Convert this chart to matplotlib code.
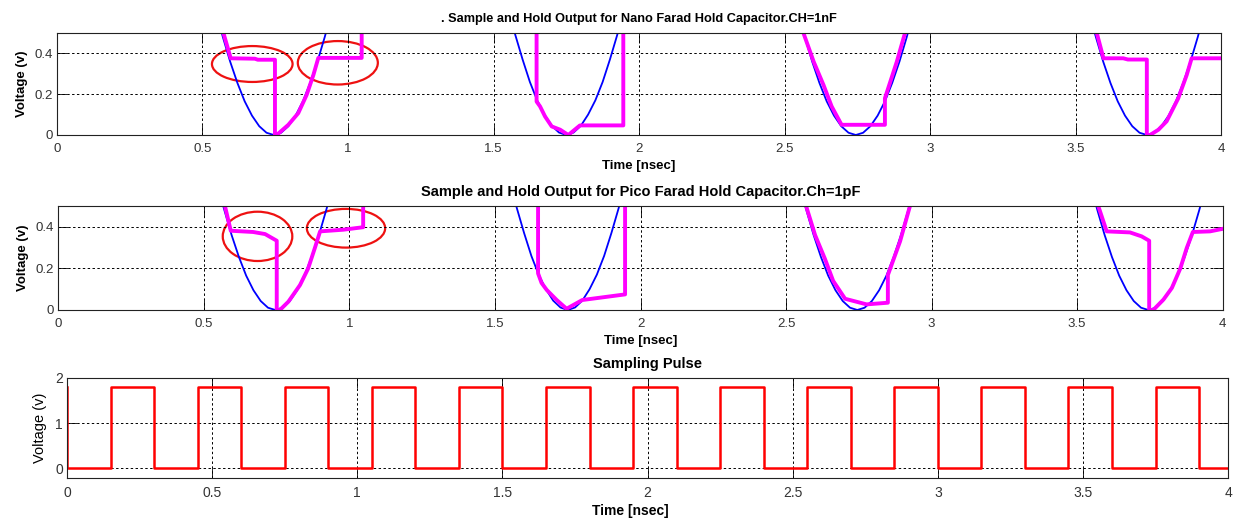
"""
Sample & hold output (nano / pico farad hold capacitor) and sampling pulse.
"""

import matplotlib
matplotlib.use('Agg')
import matplotlib.pyplot as plt
from matplotlib.patches import Ellipse

plt.rcParams['font.family'] = ['Liberation Sans', 'DejaVu Sans']

# ---- data ----
time_ticks = [0, 0.5, 1, 1.5, 2, 2.5, 3, 3.5, 4]
out_yticks = [0, 0.2, 0.4]
pulse_yticks = [0, 1, 2]

# input signal (blue), only the dips come into the 0..0.5 window
input_t = [0.545, 0.57, 0.595, 0.62, 0.645, 0.67, 0.695, 0.72, 0.745, 0.77, 0.795, 0.82, 0.845, 0.87, 0.895, 0.92, 0.945,
           1.55, 1.575, 1.60, 1.625, 1.65, 1.675, 1.70, 1.725, 1.75, 1.775, 1.80, 1.825, 1.85, 1.875, 1.90, 1.925, 1.95,
           2.545, 2.57, 2.595, 2.62, 2.645, 2.67, 2.695, 2.72, 2.745, 2.77, 2.795, 2.82, 2.845, 2.87, 2.895, 2.92, 2.945,
           3.545, 3.57, 3.595, 3.62, 3.645, 3.67, 3.695, 3.72, 3.745, 3.77, 3.795, 3.82, 3.845, 3.87, 3.895, 3.92, 3.945]
input_v = [0.61, 0.48, 0.36, 0.255, 0.165, 0.095, 0.043, 0.011, 0.0, 0.011, 0.043, 0.095, 0.165, 0.255, 0.36, 0.48, 0.61,
           0.62, 0.49, 0.37, 0.26, 0.17, 0.10, 0.045, 0.012, 0.0, 0.012, 0.045, 0.10, 0.17, 0.26, 0.37, 0.49, 0.62,
           0.61, 0.48, 0.36, 0.255, 0.165, 0.095, 0.043, 0.011, 0.0, 0.011, 0.043, 0.095, 0.165, 0.255, 0.36, 0.48, 0.61,
           0.61, 0.48, 0.36, 0.255, 0.165, 0.095, 0.043, 0.011, 0.0, 0.011, 0.043, 0.095, 0.165, 0.255, 0.36, 0.48, 0.61]

# S&H output, CH = 1nF (magenta)
nano_t = [0.0, 0.55, 0.572, 0.597, 0.68, 0.69, 0.749, 0.749, 0.755, 0.795, 0.829, 0.858, 0.881, 0.898, 1.047, 1.047,
          1.648, 1.648, 1.66, 1.677, 1.70, 1.729, 1.757, 1.797, 1.946, 1.946,
          2.54, 2.565, 2.60, 2.634, 2.662, 2.696, 2.845, 2.845, 2.886, 2.914, 2.94,
          3.55, 3.573, 3.596, 3.664, 3.68, 3.745, 3.745, 3.756, 3.785, 3.813, 3.853, 3.882, 3.899, 4.0]
nano_v = [1.3, 0.62, 0.5, 0.376, 0.374, 0.369, 0.369, 0.0, 0.0, 0.05, 0.107, 0.197, 0.294, 0.378, 0.378, 1.3,
          1.3, 0.164, 0.14, 0.091, 0.042, 0.026, 0.0, 0.047, 0.047, 1.3,
          0.62, 0.5, 0.36, 0.245, 0.14, 0.05, 0.05, 0.18, 0.36, 0.5, 0.62,
          0.62, 0.5, 0.376, 0.376, 0.37, 0.37, 0.0, 0.0, 0.026, 0.067, 0.18, 0.294, 0.376, 0.376]

# S&H output, Ch = 1pF (magenta)
pico_t = [0.0, 0.55, 0.572, 0.592, 0.669, 0.71, 0.75, 0.75, 0.761, 0.79, 0.83, 0.858, 0.881, 0.899, 0.979, 1.047, 1.047,
          1.648, 1.648, 1.66, 1.678, 1.712, 1.746, 1.80, 1.947, 1.947,
          2.545, 2.569, 2.60, 2.634, 2.662, 2.703, 2.777, 2.85, 2.85, 2.892, 2.926, 2.95,
          3.55, 3.573, 3.602, 3.682, 3.722, 3.748, 3.748, 3.762, 3.797, 3.826, 3.855, 3.877, 3.898, 3.957, 4.0]
pico_v = [1.3, 0.62, 0.5, 0.381, 0.375, 0.365, 0.333, 0.0, 0.0, 0.04, 0.12, 0.2, 0.298, 0.378, 0.386, 0.398, 1.3,
          1.3, 0.176, 0.13, 0.096, 0.048, 0.006, 0.048, 0.075, 1.3,
          0.62, 0.5, 0.36, 0.245, 0.14, 0.054, 0.027, 0.035, 0.168, 0.33, 0.5, 0.62,
          0.62, 0.5, 0.378, 0.373, 0.354, 0.333, 0.0, 0.0, 0.05, 0.106, 0.2, 0.298, 0.375, 0.378, 0.39]

# sampling pulse edges
PULSE_HIGH = 1.8
pulse_rise = [0.15, 0.45, 0.75, 1.05, 1.35, 1.65, 1.95, 2.25, 2.55, 2.85, 3.15, 3.45, 3.75]
pulse_fall = [0.30, 0.60, 0.90, 1.20, 1.50, 1.80, 2.10, 2.40, 2.70, 3.00, 3.30, 3.60, 3.90]

# red marks around the hold droop (centre t, centre v, width, height)
nano_marks = [(0.671, 0.348, 0.277, 0.176), (0.965, 0.354, 0.275, 0.213)]
pico_marks = [(0.684, 0.354, 0.239, 0.237), (0.988, 0.393, 0.269, 0.186)]

# step path for the pulse (starts high for an instant at t=0)
pulse_t = [0.0, 0.0]
pulse_v = [PULSE_HIGH, 0.0]
for r, f in zip(pulse_rise, pulse_fall):
    pulse_t += [r, r, f, f]
    pulse_v += [0.0, PULSE_HIGH, PULSE_HIGH, 0.0]
pulse_t.append(4.0)
pulse_v.append(0.0)


def style_axes(ax, yticks, labelsize=9.5):
    ax.set_xlim(0, 4)
    ax.set_xticks(time_ticks)
    ax.set_xticklabels(['0', '0.5', '1', '1.5', '2', '2.5', '3', '3.5', '4'])
    ax.set_yticks(yticks)
    ax.tick_params(direction='in', length=7, width=0.6, top=True, right=True,
                   labelsize=labelsize, labelcolor='#333333', pad=3)
    ax.tick_params(axis='x', pad=5.5)
    ax.grid(True, linestyle=(0, (2.5, 2.5)), color='black', linewidth=0.7)
    for sp in ax.spines.values():
        sp.set_linewidth(0.8)
        sp.set_color('#222222')


fig = plt.figure(figsize=(12.39, 5.19), dpi=100)

ax1 = fig.add_axes([0.0460, 0.7399, 0.9395, 0.1965])
ax2 = fig.add_axes([0.0472, 0.4027, 0.9395, 0.2004])
ax3 = fig.add_axes([0.0541, 0.0790, 0.9371, 0.1927])

for ax, out_t, out_v, marks in [(ax1, nano_t, nano_v, nano_marks), (ax2, pico_t, pico_v, pico_marks)]:
    ax.plot(input_t, input_v, color='#0000FF', linewidth=1.3)
    ax.plot(out_t, out_v, color='#FF00FF', linewidth=2.8)
    for cx, cy, w, h in marks:
        ax.add_patch(Ellipse((cx, cy), w, h, fill=False, edgecolor='#EE1111', linewidth=1.6))
    ax.set_ylim(0, 0.5)
    style_axes(ax, out_yticks)
    ax.set_yticklabels(['0', '0.2', '0.4'])
    ax.set_ylabel('Voltage (v)', fontsize=9.5, fontweight='bold', labelpad=5)

ax1.set_title('. Sample and Hold Output for Nano Farad Hold Capacitor.CH=1nF',
              fontsize=9.2, fontweight='bold', pad=8)
ax1.set_xlabel('Time [nsec]', fontsize=9.5, fontweight='bold', labelpad=4)

ax2.set_title('Sample and Hold Output for Pico Farad Hold Capacitor.Ch=1pF',
              fontsize=10.5, fontweight='bold', pad=7.5)
ax2.set_xlabel('Time [nsec]', fontsize=9.5, fontweight='bold', labelpad=4)

ax3.plot(pulse_t, pulse_v, color='#FF0000', linewidth=1.8)
ax3.set_ylim(-0.22, 2)
style_axes(ax3, pulse_yticks, labelsize=10)
ax3.set_yticklabels(['0', '1', '2'])
ax3.set_ylabel('Voltage (v)', fontsize=10.5, labelpad=6)
ax3.set_title('Sampling Pulse', fontsize=10.5, fontweight='bold', pad=7)
ax3.set_xlabel('Time [nsec]', fontsize=10, fontweight='bold', labelpad=3.5, x=0.485)

fig.savefig('out.png', dpi=100)
